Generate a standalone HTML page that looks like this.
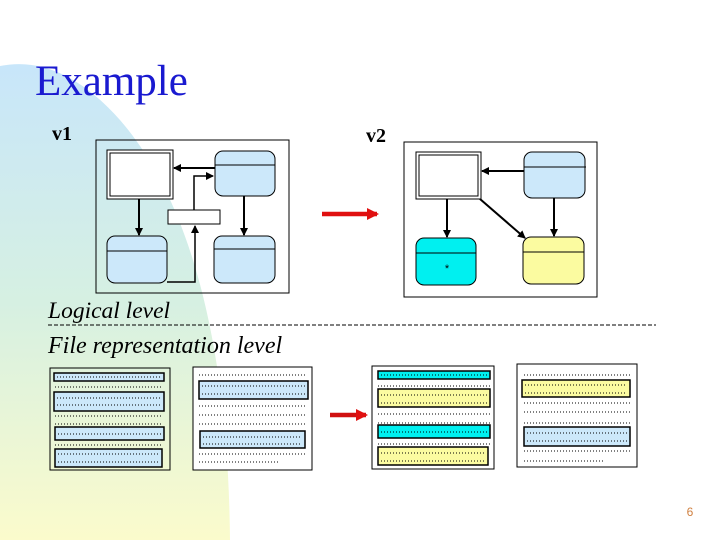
<!DOCTYPE html>
<html><head><meta charset="utf-8"><style>
html,body{margin:0;padding:0;background:#fff;}
svg{display:block;}
</style></head><body>
<svg width="720" height="540" viewBox="0 0 720 540" xmlns="http://www.w3.org/2000/svg">
<defs>
<linearGradient id="bg" x1="0" y1="0" x2="0" y2="1">
<stop offset="0" stop-color="#c8e6fa"/>
<stop offset="0.5" stop-color="#d6f0e2"/>
<stop offset="1" stop-color="#fbfbcc"/>
</linearGradient>
<marker id="ah" markerWidth="8" markerHeight="8" refX="7" refY="4" orient="auto" markerUnits="userSpaceOnUse">
<path d="M0,0 L8,4 L0,8 z" fill="#000"/></marker>
<marker id="rh" markerWidth="12" markerHeight="12" refX="10" refY="6" orient="auto" markerUnits="userSpaceOnUse">
<path d="M0,0 L12,6 L0,12 z" fill="#e01010"/></marker>
</defs>
<path d="M0,66 C40,58 80,75 120,120 C185,195 228,330 230,540 L0,540 Z" fill="url(#bg)"/>
<text x="35" y="95" font-family="Liberation Serif, serif" font-size="43" fill="#1a1ad0">Example</text>
<text x="52" y="140" font-family="Liberation Serif, serif" font-size="20" font-weight="bold">v1</text>
<text x="366" y="142" font-family="Liberation Serif, serif" font-size="20" font-weight="bold">v2</text>

<g stroke="#000" fill="none" stroke-width="1">
<rect x="96" y="140" width="193" height="153" fill="none"/>
<rect x="107" y="150" width="66" height="49" fill="#fff"/>
<rect x="110" y="153" width="60" height="43"/>
<rect x="215" y="151" width="60" height="45" rx="8" fill="#cce8fa"/>
<line x1="215" y1="165" x2="275" y2="165"/>
<rect x="107" y="236" width="60" height="47" rx="8" fill="#cce8fa"/>
<line x1="107" y1="251" x2="167" y2="251"/>
<rect x="214" y="236" width="61" height="47" rx="8" fill="#cce8fa"/>
<line x1="214" y1="249" x2="275" y2="249"/>
<rect x="168" y="210" width="52" height="14" fill="#fff"/>
<g stroke-width="2">
<line x1="215" y1="168" x2="174" y2="168" marker-end="url(#ah)"/>
<line x1="139" y1="199" x2="139" y2="235" marker-end="url(#ah)"/>
<line x1="244" y1="196" x2="244" y2="235" marker-end="url(#ah)"/>
<polyline points="167,282 195,282 195,226" stroke-width="1.5" marker-end="url(#ah)"/>
<polyline points="194,210 194,176 213,176" stroke-width="1.5" marker-end="url(#ah)"/>
</g>
<rect x="404" y="142" width="193" height="155"/>
<rect x="416" y="152" width="65" height="47" fill="#fff"/>
<rect x="419" y="155" width="59" height="41"/>
<rect x="524" y="152" width="61" height="46" rx="8" fill="#cce8fa"/>
<line x1="524" y1="167" x2="586" y2="167"/>
<rect x="416" y="238" width="60" height="47" rx="8" fill="#00f0f0"/>
<line x1="416" y1="253" x2="476" y2="253"/>
<rect x="523" y="237" width="61" height="47" rx="8" fill="#fbfba0"/>
<line x1="523" y1="252" x2="584" y2="252"/>
<g stroke-width="2">
<line x1="524" y1="171" x2="482" y2="171" marker-end="url(#ah)"/>
<line x1="447" y1="199" x2="447" y2="237" marker-end="url(#ah)"/>
<line x1="480" y1="199" x2="525" y2="238" marker-end="url(#ah)"/>
<line x1="554" y1="198" x2="554" y2="236" marker-end="url(#ah)"/>
</g>
</g>
<text x="447" y="272" font-family="Liberation Sans, sans-serif" font-size="11" text-anchor="middle">*</text>
<line x1="322" y1="214" x2="377" y2="214" stroke="#e01010" stroke-width="4.5" marker-end="url(#rh)"/>

<text x="48" y="318" font-family="Liberation Serif, serif" font-size="23.5" font-style="italic">Logical level</text>
<line x1="48" y1="325" x2="656" y2="325" stroke="#000" stroke-dasharray="4,2" stroke-width="1"/>
<text x="48" y="353" font-family="Liberation Serif, serif" font-size="24" font-style="italic">File representation level</text>

<g stroke="#000" fill="none">
<rect x="50" y="368" width="120" height="102"/>
<rect x="54" y="373" width="110" height="8" fill="#cce8fa" stroke-width="1.5"/>
<rect x="54" y="392" width="110" height="19" fill="#cce8fa" stroke-width="1.5"/>
<rect x="55" y="427" width="109" height="13" fill="#cce8fa" stroke-width="1.5"/>
<rect x="55" y="449" width="107" height="18" fill="#cce8fa" stroke-width="1.5"/>
<rect x="193" y="367" width="119" height="103" fill="#fff"/>
<rect x="199" y="381" width="109" height="18" fill="#cce8fa" stroke-width="1.5"/>
<rect x="200" y="431" width="105" height="17" fill="#cce8fa" stroke-width="1.5"/>
<rect x="372" y="366" width="122" height="103" fill="#fff"/>
<rect x="378" y="371" width="112" height="8" fill="#00f0f0" stroke-width="1.5"/>
<rect x="378" y="389" width="112" height="18" fill="#fbfba0" stroke-width="1.5"/>
<rect x="378" y="425" width="112" height="13" fill="#00f0f0" stroke-width="1.5"/>
<rect x="378" y="447" width="110" height="18" fill="#fbfba0" stroke-width="1.5"/>
<rect x="517" y="364" width="120" height="103" fill="#fff"/>
<rect x="522" y="380" width="108" height="17" fill="#fbfba0" stroke-width="1.5"/>
<rect x="524" y="427" width="106" height="19" fill="#cce8fa" stroke-width="1.5"/>
</g>
<g stroke="#000" stroke-width="1" stroke-dasharray="1,2">
<line x1="57" y1="377" x2="161" y2="377"/><line x1="55" y1="387" x2="163" y2="387"/>
<line x1="57" y1="398" x2="161" y2="398"/><line x1="57" y1="405" x2="161" y2="405"/>
<line x1="55" y1="416" x2="163" y2="416"/><line x1="55" y1="424" x2="163" y2="424"/>
<line x1="58" y1="434" x2="161" y2="434"/><line x1="55" y1="445" x2="163" y2="445"/>
<line x1="58" y1="454" x2="159" y2="454"/><line x1="58" y1="462" x2="159" y2="462"/>
<line x1="199" y1="375" x2="306" y2="375"/>
<line x1="202" y1="386" x2="305" y2="386"/><line x1="202" y1="394" x2="305" y2="394"/>
<line x1="199" y1="406" x2="306" y2="406"/><line x1="199" y1="415" x2="306" y2="415"/><line x1="199" y1="424" x2="306" y2="424"/>
<line x1="203" y1="437" x2="302" y2="437"/><line x1="203" y1="444" x2="302" y2="444"/>
<line x1="199" y1="454" x2="306" y2="454"/><line x1="199" y1="462" x2="280" y2="462"/>
<line x1="381" y1="375" x2="487" y2="375"/><line x1="378" y1="386" x2="490" y2="386"/>
<line x1="381" y1="395" x2="487" y2="395"/><line x1="381" y1="403" x2="487" y2="403"/>
<line x1="378" y1="414" x2="490" y2="414"/><line x1="378" y1="423" x2="490" y2="423"/>
<line x1="381" y1="432" x2="487" y2="432"/><line x1="378" y1="444" x2="490" y2="444"/>
<line x1="381" y1="453" x2="485" y2="453"/><line x1="381" y1="461" x2="485" y2="461"/>
<line x1="524" y1="375" x2="630" y2="375"/>
<line x1="525" y1="385" x2="627" y2="385"/><line x1="525" y1="393" x2="627" y2="393"/>
<line x1="524" y1="403" x2="630" y2="403"/><line x1="524" y1="412" x2="630" y2="412"/><line x1="524" y1="423" x2="630" y2="423"/>
<line x1="527" y1="433" x2="627" y2="433"/><line x1="527" y1="441" x2="627" y2="441"/>
<line x1="524" y1="451" x2="630" y2="451"/><line x1="524" y1="461" x2="605" y2="461"/>
</g>
<line x1="330" y1="415" x2="366" y2="415" stroke="#d01010" stroke-width="4.5" marker-end="url(#rh)"/>
<text x="690" y="516" font-family="Liberation Sans, sans-serif" font-size="12" fill="#d08040" text-anchor="middle">6</text>
</svg>
</body></html>
